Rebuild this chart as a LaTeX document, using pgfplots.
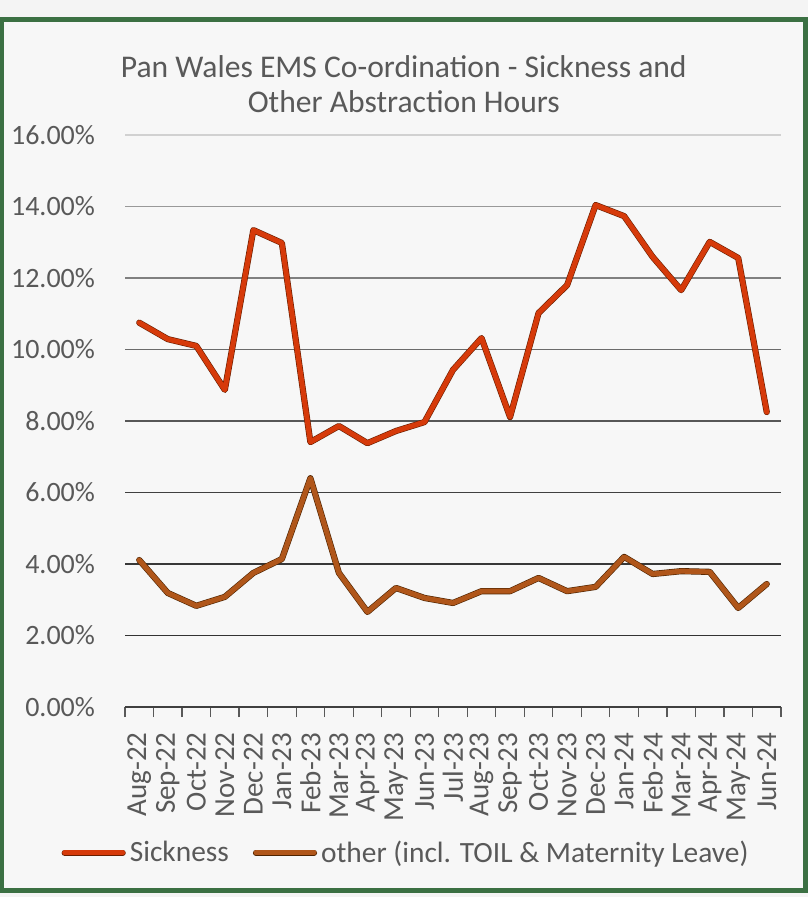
\documentclass[border=0pt]{standalone}
\usepackage{fontspec}
\setmainfont{Carlito}
\usepackage{pgfplots}
\pgfplotsset{compat=1.18}
\definecolor{txt}{HTML}{595959}
\definecolor{frame}{HTML}{3B7043}
\definecolor{outbg}{HTML}{F4F4F4}
\definecolor{inbg}{HTML}{F7F7F7}
\definecolor{sick}{HTML}{D63A0A}
\definecolor{sickdark}{HTML}{6A1E00}
\definecolor{oth}{HTML}{B0561A}
\definecolor{othdark}{HTML}{4E2300}
\begin{document}
\begin{tikzpicture}
\fill[outbg] (-62.5pt,-95pt) rectangle (341.5pt,353.5pt);
\filldraw[fill=inbg, draw=frame, line width=2.5pt] (-61.5pt,-91.75pt) rectangle (340.25pt,343.75pt);
\begin{axis}[
  at={(0,0)}, anchor=south west,
  scale only axis, width=328pt, height=286pt,
  xmin=-0.5, xmax=22.5, ymin=0, ymax=16,
  axis line style={draw=none},
  axis x line*=bottom, axis y line*=left,
  xtick={0,...,22},
  xticklabels={Aug-22,Sep-22,Oct-22,Nov-22,Dec-22,Jan-23,Feb-23,Mar-23,Apr-23,May-23,Jun-23,Jul-23,Aug-23,Sep-23,Oct-23,Nov-23,Dec-23,Jan-24,Feb-24,Mar-24,Apr-24,May-24,Jun-24},
  major x tick style={draw=none},
  minor xtick={-0.5,0.5,...,22.5},
  minor x tick style={draw=txt, line width=0.6pt},
  xtick align=outside,
  minor tick length=5pt,
  xticklabel style={rotate=90, anchor=east, font=\fontsize{14.5}{15}\selectfont, text=txt},
  xticklabel shift=5pt,
  ytick={0,2,...,16},
  ytick style={draw=none},
  yticklabel={\pgfmathprintnumber[fixed,fixed zerofill,precision=2]{\tick}\%},
  yticklabel style={anchor=east, font=\fontsize{14}{15}\selectfont, text=txt},
  yticklabel shift=11.5pt,
  /pgf/number format/assume math mode=true,
  title={Pan Wales EMS Co-ordination - Sickness and\\Other Abstraction Hours},
  title style={at={(0.425,1.068)}, anchor=center, align=center, font=\fontsize{15.8}{17.5}\selectfont, text=txt},
  legend columns=2,
  legend style={at={(0.43,-0.255)}, anchor=center, draw=none, fill=none,
    font=\fontsize{14.7}{15}\selectfont, text=txt,
    /tikz/every even column/.append style={column sep=10pt}},
  legend image code/.code={\draw[#1] (0pt,0pt) -- (29pt,0pt);},
  clip=false,
]
\addplot[forget plot, draw=black!18, line width=0.75pt] coordinates {(-0.5,16) (22.5,16)};
\addplot[forget plot, draw=black!40, line width=0.75pt] coordinates {(-0.5,14) (22.5,14)};
\addplot[forget plot, draw=black!50, line width=0.75pt] coordinates {(-0.5,12) (22.5,12)};
\addplot[forget plot, draw=black!58, line width=0.75pt] coordinates {(-0.5,10) (22.5,10)};
\addplot[forget plot, draw=black!66, line width=0.75pt] coordinates {(-0.5,8) (22.5,8)};
\addplot[forget plot, draw=black!75, line width=0.75pt] coordinates {(-0.5,6) (22.5,6)};
\addplot[forget plot, draw=black!78, line width=0.75pt] coordinates {(-0.5,4) (22.5,4)};
\addplot[forget plot, draw=black!80, line width=0.75pt] coordinates {(-0.5,2) (22.5,2)};
\addplot[forget plot, draw=black!75, line width=0.75pt] coordinates {(-0.5,0) (22.5,0)};
\addplot[draw=sick, line width=2.5pt, line join=round, line cap=round,
  preaction={draw=sickdark, line width=3.1pt}] coordinates {
(0,10.75) (1,10.29) (2,10.10) (3,8.87) (4,13.34) (5,12.98) (6,7.41) (7,7.86) (8,7.38) (9,7.72) (10,7.97) (11,9.43) (12,10.32) (13,8.11) (14,11.02) (15,11.80) (16,14.04) (17,13.73) (18,12.59) (19,11.66) (20,13.01) (21,12.56) (22,8.25)};
\addlegendentry{Sickness}
\addplot[draw=oth, line width=2.5pt, line join=round, line cap=round,
  preaction={draw=othdark, line width=3.1pt}] coordinates {
(0,4.11) (1,3.19) (2,2.83) (3,3.08) (4,3.75) (5,4.14) (6,6.40) (7,3.75) (8,2.66) (9,3.33) (10,3.05) (11,2.91) (12,3.24) (13,3.24) (14,3.61) (15,3.24) (16,3.36) (17,4.20) (18,3.72) (19,3.80) (20,3.78) (21,2.77) (22,3.44)};
\addlegendentry{other (incl. TOIL \& Maternity Leave)}
\end{axis}
\pgfresetboundingbox
\path (-62.5pt,-95pt) rectangle (341.5pt,353.5pt);
\end{tikzpicture}
\end{document}
